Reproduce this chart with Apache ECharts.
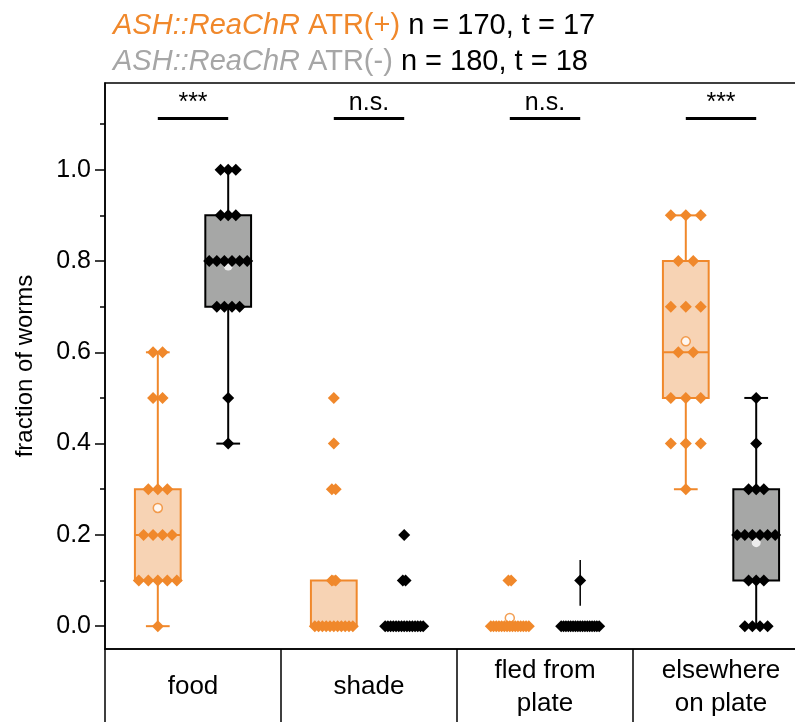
<!DOCTYPE html>
<html><head><meta charset="utf-8">
<script src="https://cdn.jsdelivr.net/npm/echarts@6/dist/echarts.min.js"></script>
<style>html,body{margin:0;padding:0;background:#fff}#c{width:795px;height:722px}</style>
</head><body><div id="c"></div><script>
// ---------- data ----------
const categories = ['food', 'shade', 'fled from\nplate', 'elsewhere\non plate'];
const groupNames = ['ATR(+)', 'ATR(-)'];
const strainName = 'ASH::ReaChR';
const groupStats = ['n = 170, t = 17', 'n = 180, t = 18'];
const sigLabels = ['***', 'n.s.', 'n.s.', '***'];
const sigLevel = 1.112;
const yTicks = [0, 0.2, 0.4, 0.6, 0.8, 1.0];
const yMinorTicks = [0.1, 0.3, 0.5, 0.7, 0.9, 1.1];

// ATR(+) individual trial values
const plusFood  = [0, 0.1, 0.1, 0.1, 0.1, 0.1, 0.2, 0.2, 0.2, 0.2, 0.3, 0.3, 0.3, 0.5, 0.5, 0.6, 0.6];
const plusShade = [0, 0, 0, 0, 0, 0, 0, 0, 0, 0, 0, 0.1, 0.1, 0.3, 0.3, 0.4, 0.5];
const plusFled  = [0, 0, 0, 0, 0, 0, 0, 0, 0, 0, 0, 0, 0, 0, 0, 0.1, 0.1];
const plusElse  = [0.3, 0.4, 0.4, 0.4, 0.5, 0.5, 0.5, 0.6, 0.6, 0.7, 0.7, 0.7, 0.8, 0.8, 0.9, 0.9, 0.9];
// ATR(-) individual trial values
const minusFood  = [0.4, 0.5, 0.7, 0.7, 0.7, 0.7, 0.8, 0.8, 0.8, 0.8, 0.8, 0.8, 0.9, 0.9, 0.9, 1.0, 1.0, 1.0];
const minusShade = [0, 0, 0, 0, 0, 0, 0, 0, 0, 0, 0, 0, 0, 0, 0, 0.1, 0.1, 0.2];
const minusFled  = [0, 0, 0, 0, 0, 0, 0, 0, 0, 0, 0, 0, 0, 0, 0, 0, 0, 0.1];
const minusElse  = [0, 0, 0, 0, 0.1, 0.1, 0.1, 0.2, 0.2, 0.2, 0.2, 0.2, 0.2, 0.3, 0.3, 0.3, 0.4, 0.5];

// box statistics [low whisker, Q1, median, Q3, high whisker]
const plusBox  = [[0, 0.1, 0.2, 0.3, 0.6], [0, 0, 0, 0.1, 0.1], [0, 0, 0, 0, 0], [0.3, 0.5, 0.6, 0.8, 0.9]];
const minusBox = [[0.4, 0.7, 0.8, 0.9, 1.0], [0, 0, 0, 0, 0], [0, 0, 0, 0, 0], [0, 0.1, 0.2, 0.3, 0.5]];
const plusMean  = [0.259, 0.10, 0.018, 0.624];
const minusMean = [0.789, 0.022, 0.006, 0.183];
// extra vertical segment seen at ATR(-) "fled from plate"
const minusFledSegment = [0.045, 0.145];

// ---------- styling ----------
const ORANGE = '#F0882B', ORANGE_FILL = '#F7D3B4', GRAY_FILL = '#A6A7A6', GRAY_TEXT = '#A6A6A6';
const OFFSET = 0.2, BOX_W = 0.26, CAP_W = 0.135;
const SPAN = 0.216, MAX_STEP = 0.085;
const FONT = '"Liberation Sans", Arial, sans-serif';

const plusPts = [plusFood, plusShade, plusFled, plusElse];
const minusPts = [minusFood, minusShade, minusFled, minusElse];

function swarm(values, center) {
  const counts = {};
  values.forEach(v => { counts[v] = (counts[v] || 0) + 1; });
  const maxC = Math.max(...Object.values(counts));
  const step = maxC > 1 ? Math.min(MAX_STEP, SPAN / (maxC - 1)) : 0;
  const seen = {};
  return values.map(v => {
    const n = counts[v];
    const k = seen[v] || 0;
    seen[v] = k + 1;
    return [center + (k - (n - 1) / 2) * step, v];
  });
}

const plusScatter = [], minusScatter = [], boxData = [], plusMeanData = [], minusMeanData = [];
categories.forEach((c, i) => {
  plusScatter.push(...swarm(plusPts[i], i - OFFSET));
  minusScatter.push(...swarm(minusPts[i], i + OFFSET));
  boxData.push([i - OFFSET, ...plusBox[i], 0]);
  boxData.push([i + OFFSET, ...minusBox[i], 1]);
  plusMeanData.push([i - OFFSET, plusMean[i]]);
  minusMeanData.push([i + OFFSET, minusMean[i]]);
});

function renderBox(params, api) {
  const x = api.value(0);
  const lo = api.value(1), q1 = api.value(2), med = api.value(3), q3 = api.value(4), hi = api.value(5);
  const g = api.value(6);
  const stroke = g === 0 ? ORANGE : '#000';
  const fill = g === 0 ? ORANGE_FILL : GRAY_FILL;
  const hw = api.size([BOX_W, 0])[0] / 2;
  const cw = api.size([CAP_W, 0])[0] / 2;
  const pLo = api.coord([x, lo]), pQ1 = api.coord([x, q1]), pMed = api.coord([x, med]);
  const pQ3 = api.coord([x, q3]), pHi = api.coord([x, hi]);
  const ls = { stroke: stroke, lineWidth: 2 };
  const children = [];
  if (q3 > q1) {
    children.push({ type: 'line', shape: { x1: pLo[0], y1: pLo[1], x2: pQ1[0], y2: pQ1[1] }, style: ls });
    children.push({ type: 'line', shape: { x1: pQ3[0], y1: pQ3[1], x2: pHi[0], y2: pHi[1] }, style: ls });
    if (lo < q1) children.push({ type: 'line', shape: { x1: pLo[0] - cw, y1: pLo[1], x2: pLo[0] + cw, y2: pLo[1] }, style: ls });
    if (hi > q3) children.push({ type: 'line', shape: { x1: pHi[0] - cw, y1: pHi[1], x2: pHi[0] + cw, y2: pHi[1] }, style: ls });
    children.push({ type: 'rect', shape: { x: pQ3[0] - hw, y: pQ3[1], width: 2 * hw, height: pQ1[1] - pQ3[1] },
      style: { fill: fill, stroke: stroke, lineWidth: 2 } });
    children.push({ type: 'line', shape: { x1: pMed[0] - hw, y1: pMed[1], x2: pMed[0] + hw, y2: pMed[1] }, style: ls });
  }
  return { type: 'group', children: children };
}

function renderSig(params, api) {
  const i = params.dataIndex;
  const a = api.coord([i - OFFSET, sigLevel]);
  const b = api.coord([i + OFFSET, sigLevel]);
  return { type: 'group', children: [
    { type: 'line', shape: { x1: a[0], y1: a[1], x2: b[0], y2: b[1] }, style: { stroke: '#000', lineWidth: 3 } },
    { type: 'text', style: { text: sigLabels[i], x: (a[0] + b[0]) / 2, y: a[1] - 3, align: 'center', verticalAlign: 'bottom',
      fontSize: 25, fontFamily: FONT, fill: '#000' } }
  ]};
}

function renderSeg(params, api) {
  const p1 = api.coord([api.value(0), api.value(1)]);
  const p2 = api.coord([api.value(0), api.value(2)]);
  return { type: 'line', shape: { x1: p1[0], y1: p1[1], x2: p2[0], y2: p2[1] }, style: { stroke: '#000', lineWidth: 1.5 } };
}

const chart = echarts.init(document.getElementById('c'), null, { renderer: 'canvas' });
chart.setOption({
  animation: false,
  backgroundColor: '#fff',
  title: {
    left: 108, top: 3,
    text: '{oi|' + strainName + '} {o|' + groupNames[0] + '} ' + groupStats[0] + '\n{gi|' + strainName + '} {g|' + groupNames[1] + '} ' + groupStats[1],
    textStyle: {
      fontSize: 29, fontFamily: FONT, fontWeight: 'normal', color: '#000', lineHeight: 36,
      rich: {
        oi: { fontStyle: 'italic', color: ORANGE, fontSize: 29, fontFamily: FONT },
        o: { color: ORANGE, fontSize: 29, fontFamily: FONT },
        gi: { fontStyle: 'italic', color: GRAY_TEXT, fontSize: 29, fontFamily: FONT },
        g: { color: GRAY_TEXT, fontSize: 29, fontFamily: FONT }
      }
    }
  },
  grid: { left: 105, right: -14, top: 83, bottom: 73, show: true, borderColor: '#000', borderWidth: 1.5,
    backgroundColor: 'transparent', containLabel: false, outerBoundsMode: 'none' },
  xAxis: [
    { type: 'category', data: categories, position: 'bottom', boundaryGap: true,
      axisLine: { show: true, onZero: false, lineStyle: { color: '#000', width: 1.5 } },
      axisTick: { show: true, length: 73, alignWithLabel: false, lineStyle: { color: '#000', width: 1.5 } },
      axisLabel: { color: '#000', fontSize: 26, fontFamily: '"Liberation Sans Narrow", ' + FONT, margin: 38,
        verticalAlign: 'middle', lineHeight: 33, interval: 0 },
      splitLine: { show: false } },
    { type: 'value', min: -0.5, max: 3.5, show: false, axisLine: { show: false, onZero: false } }
  ],
  yAxis: [
    { type: 'value', min: -0.05, max: 1.19,
      axisLine: { show: true, onZero: false, lineStyle: { color: '#000', width: 1.5 } },
      axisTick: { show: true, length: 10, customValues: yTicks, lineStyle: { color: '#000', width: 1.5 } },
      axisLabel: { customValues: yTicks, formatter: v => Number(v).toFixed(1), color: '#000', fontSize: 25, fontFamily: FONT, margin: 14 },
      splitLine: { show: false },
      name: 'fraction of worms', nameLocation: 'middle', nameGap: 68, nameRotate: 90,
      nameTextStyle: { color: '#000', fontSize: 24, fontFamily: FONT } },
    { type: 'value', min: -0.05, max: 1.19, position: 'left', offset: 0,
      axisLine: { show: false, onZero: false },
      axisTick: { show: true, length: 5, customValues: yMinorTicks, lineStyle: { color: '#000', width: 1.5 } },
      axisLabel: { show: false }, splitLine: { show: false } }
  ],
  series: [
    { type: 'custom', name: 'boxes', xAxisIndex: 1, yAxisIndex: 0, renderItem: renderBox, data: boxData, z: 2,
      encode: { x: 0, y: [1, 5] } },
    { type: 'custom', name: 'segment', xAxisIndex: 1, yAxisIndex: 0, renderItem: renderSeg,
      data: [[2 + OFFSET, minusFledSegment[0], minusFledSegment[1]]], z: 2, encode: { x: 0, y: [1, 2] } },
    { type: 'scatter', name: 'mean+', xAxisIndex: 1, yAxisIndex: 0, data: plusMeanData, symbol: 'circle', symbolSize: 9, z: 3,
      itemStyle: { color: '#fff', borderColor: ORANGE, borderWidth: 1.5 } },
    { type: 'scatter', name: 'mean-', xAxisIndex: 1, yAxisIndex: 0, data: minusMeanData, symbol: 'circle', symbolSize: 9, z: 3,
      itemStyle: { color: '#fff', borderColor: '#fff', borderWidth: 0 } },
    { type: 'scatter', name: groupNames[0], xAxisIndex: 1, yAxisIndex: 0, data: plusScatter, symbol: 'diamond', symbolSize: 12, z: 4,
      itemStyle: { color: ORANGE, opacity: 1 } },
    { type: 'scatter', name: groupNames[1], xAxisIndex: 1, yAxisIndex: 0, data: minusScatter, symbol: 'diamond', symbolSize: 12, z: 4,
      itemStyle: { color: '#000', opacity: 1 } },
    { type: 'custom', name: 'significance', xAxisIndex: 1, yAxisIndex: 0, renderItem: renderSig,
      data: sigLabels.map((s, i) => [i, sigLevel]), z: 5, encode: { x: 0, y: 1 } }
  ]
});
</script></body></html>
